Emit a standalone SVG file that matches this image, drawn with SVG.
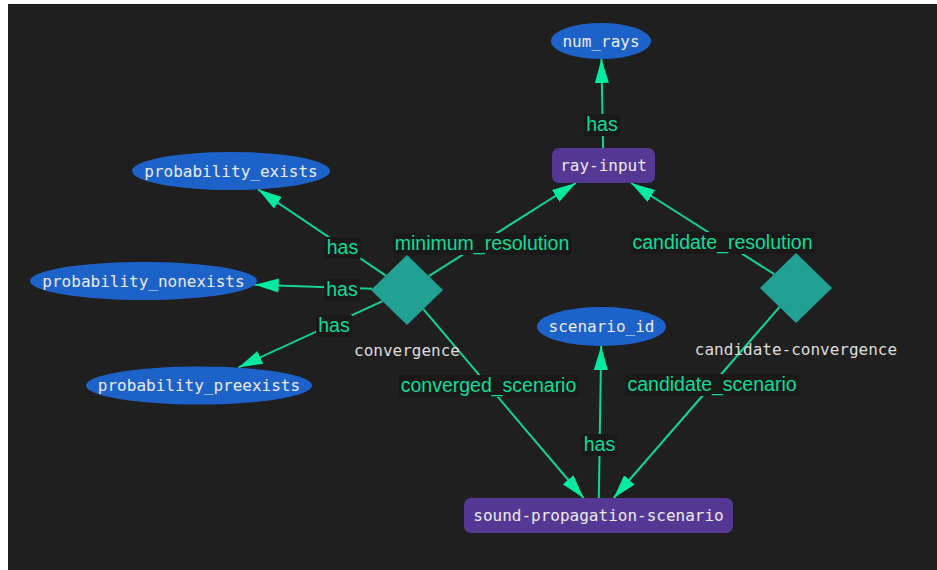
<svg xmlns="http://www.w3.org/2000/svg" width="937" height="570" viewBox="0 0 937 570">
  <style>
    .canvas { fill: #1f1f1f; }
    .attr ellipse { fill: #1d62c9; }
    .entity rect { fill: #553893; }
    .rel polygon { fill: #21a094; }
    .nlabel { font-family: "DejaVu Sans Mono", "Liberation Mono", monospace; font-size: 16px; fill: #ececec; text-anchor: middle; }
    .rlabel { font-family: "DejaVu Sans Mono", "Liberation Mono", monospace; font-size: 16px; fill: #dcdcdc; text-anchor: middle; }
    .edge line { stroke: #14d396; stroke-width: 2; fill: none; }
    .elabel { font-family: "Liberation Sans", Arial, sans-serif; font-size: 19.5px; fill: #0fdc98; text-anchor: middle; }
    .lbg { fill: #191919; }
  </style>
  <defs>
    <marker id="arrow" markerUnits="userSpaceOnUse" markerWidth="26" markerHeight="16" refX="24" refY="8" orient="auto">
      <path d="M0,1 L24,8 L0,15 Z" fill="#02eba0"/>
    </marker>
  </defs>

  <!-- frame and canvas -->
  <rect x="0" y="0" width="937" height="570" fill="#ffffff"/>
  <rect class="canvas" x="8" y="4" width="929" height="566"/>

  <!-- connectors -->
  <g id="connectors">
    <g class="edge" id="e-rayinput-numrays">
      <line x1="603.1" y1="148" x2="601.4" y2="59" marker-end="url(#arrow)"/>
      <rect class="lbg" x="584" y="114" width="36" height="22"/>
      <text class="elabel" x="602" y="131">has</text>
    </g>
    <g class="edge" id="e-conv-exists">
      <line x1="385.8" y1="275.6" x2="258" y2="189.3" marker-end="url(#arrow)"/>
      <rect class="lbg" x="324.5" y="237" width="36" height="22"/>
      <text class="elabel" x="342.5" y="254">has</text>
    </g>
    <g class="edge" id="e-conv-nonexists">
      <line x1="372.2" y1="288.8" x2="254.7" y2="284.8" marker-end="url(#arrow)"/>
      <rect class="lbg" x="324" y="279" width="36" height="22"/>
      <text class="elabel" x="342" y="296">has</text>
    </g>
    <g class="edge" id="e-conv-preexists">
      <line x1="382.5" y1="301.2" x2="238.5" y2="367.4" marker-end="url(#arrow)"/>
      <rect class="lbg" x="316" y="315" width="36" height="22"/>
      <text class="elabel" x="334" y="332">has</text>
    </g>
    <g class="edge" id="e-conv-rayinput">
      <line x1="428.8" y1="276.2" x2="575.9" y2="183" marker-end="url(#arrow)"/>
      <rect class="lbg" x="393" y="233" width="178" height="22"/>
      <text class="elabel" x="482" y="250">minimum_resolution</text>
    </g>
    <g class="edge" id="e-cand-rayinput">
      <line x1="774.2" y1="274.2" x2="631" y2="183" marker-end="url(#arrow)"/>
      <rect class="lbg" x="630.5" y="232" width="184" height="22"/>
      <text class="elabel" x="722.5" y="249">candidate_resolution</text>
    </g>
    <g class="edge" id="e-conv-scenario">
      <line x1="423.3" y1="309.2" x2="583.6" y2="498" marker-end="url(#arrow)"/>
      <rect class="lbg" x="399" y="375" width="179" height="22"/>
      <text class="elabel" x="488.5" y="392">converged_scenario</text>
    </g>
    <g class="edge" id="e-cand-scenario">
      <line x1="779.5" y1="307" x2="613.7" y2="498" marker-end="url(#arrow)"/>
      <rect class="lbg" x="625" y="374" width="174" height="22"/>
      <text class="elabel" x="712" y="391">candidate_scenario</text>
    </g>
    <g class="edge" id="e-scenario-id">
      <line x1="598.8" y1="498" x2="601.2" y2="346" marker-end="url(#arrow)"/>
      <rect class="lbg" x="581.5" y="434" width="36" height="22"/>
      <text class="elabel" x="599.5" y="451">has</text>
    </g>
  </g>

  <!-- attribute nodes -->
  <g id="num_rays" class="attr">
    <ellipse cx="601" cy="41" rx="50" ry="18"/>
    <text class="nlabel" x="601" y="46.5">num_rays</text>
  </g>
  <g id="probability_exists" class="attr">
    <ellipse cx="231" cy="171" rx="99" ry="19"/>
    <text class="nlabel" x="231" y="176.5">probability_exists</text>
  </g>
  <g id="probability_nonexists" class="attr">
    <ellipse cx="143.5" cy="281" rx="113.5" ry="19"/>
    <text class="nlabel" x="143.5" y="286.5">probability_nonexists</text>
  </g>
  <g id="probability_preexists" class="attr">
    <ellipse cx="199" cy="385.5" rx="113" ry="19"/>
    <text class="nlabel" x="199" y="391">probability_preexists</text>
  </g>
  <g id="scenario_id" class="attr">
    <ellipse cx="601.5" cy="326.5" rx="64.5" ry="19.5"/>
    <text class="nlabel" x="601.5" y="332">scenario_id</text>
  </g>

  <!-- entity nodes -->
  <g id="ray-input" class="entity">
    <rect x="552" y="148" width="103" height="35" rx="7"/>
    <text class="nlabel" x="603.5" y="171">ray-input</text>
  </g>
  <g id="sound-propagation-scenario" class="entity">
    <rect x="464" y="498" width="269" height="35" rx="7"/>
    <text class="nlabel" x="598.5" y="521">sound-propagation-scenario</text>
  </g>

  <!-- relationship nodes -->
  <g id="convergence" class="rel">
    <polygon points="407,255 443,290 407,325 371,290"/>
    <text class="rlabel" x="407" y="356">convergence</text>
  </g>
  <g id="candidate-convergence" class="rel">
    <polygon points="796,253 832,288 796,323 760,288"/>
    <text class="rlabel" x="796" y="355">candidate-convergence</text>
  </g>
</svg>
